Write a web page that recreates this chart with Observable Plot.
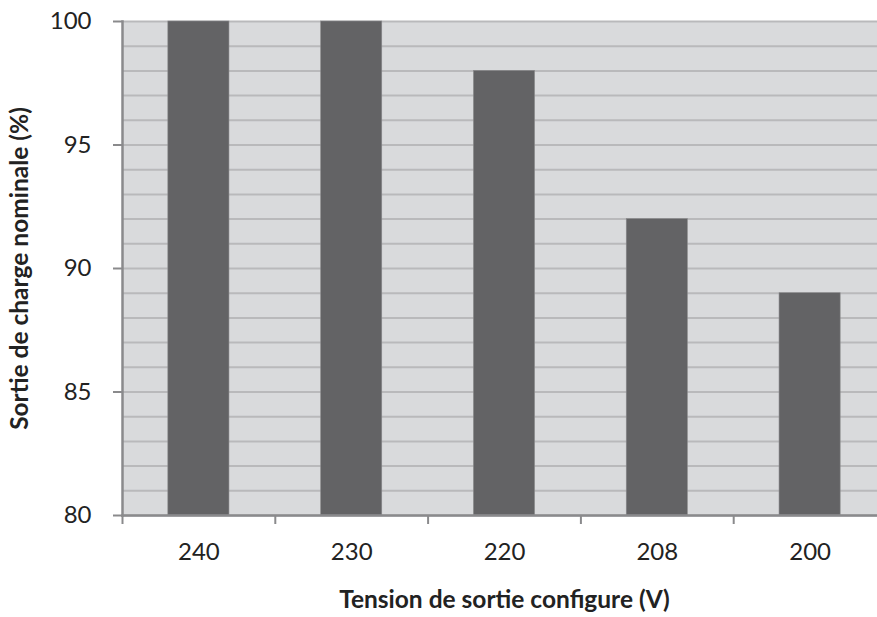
<!DOCTYPE html>
<html>
<head>
<meta charset="utf-8">
<script src="https://cdn.jsdelivr.net/npm/d3@7"></script>
<script src="https://cdn.jsdelivr.net/npm/@observablehq/plot@0.6"></script>
<style>
  html, body { margin: 0; padding: 0; background: #fff; overflow: hidden; }
  #chart svg { display: block; max-width: none !important; }
</style>
</head>
<body>
<div id="chart"></div>
<script>
const categories = ["240", "230", "220", "208", "200"];
const values = [100, 100, 98, 92, 89];
const yTicks = [80, 85, 90, 95, 100];
const yGrid = d3.range(80, 101, 1);
const xLabel = "Tension de sortie configure (V)";
const yLabel = "Sortie de charge nominale (%)";

const data = categories.map((c, i) => ({ cat: c, value: values[i] }));

const W = 886, H = 617;
const ml = 122, mr = 0, mt = 21, mb = 102;
const step = (W - ml - mr) / categories.length;

const plot = Plot.plot({
  width: W,
  height: H,
  marginLeft: ml,
  marginRight: mr,
  marginTop: mt,
  marginBottom: mb,
  style: { fontFamily: "Lato, 'Open Sans', sans-serif", fontSize: "24px", color: "#222", background: "#fff", overflow: "visible", maxWidth: "none" },
  x: { type: "band", domain: categories, paddingInner: 0.6, paddingOuter: 0.3, round: false },
  y: { domain: [80, 100] },
  marks: [
    Plot.frame({ fill: "#d9dadc", stroke: null }),
    Plot.gridY(yGrid, { stroke: "#b9b9bb", strokeOpacity: 1, strokeWidth: 2 }),
    Plot.barY(data, { x: "cat", y1: 80, y2: "value", fill: "#636365", stroke: "#8a8a8c", strokeWidth: 0.6 }),
    Plot.ruleX(categories, { x: d => d, y1: 80, y2: 80, dx: -step / 2, insetBottom: -9, stroke: "#8a8a8c", strokeWidth: 2 }),
    Plot.frame({ anchor: "left", stroke: "#8a8a8c", strokeWidth: 2.5 }),
    Plot.frame({ anchor: "bottom", stroke: "#8a8a8c", strokeWidth: 2.5 }),
    Plot.axisY(yTicks, { tickSize: 9, tickPadding: 22, fontSize: 24, label: null, stroke: "#8a8a8c", strokeWidth: 2 }),
    Plot.axisX({ tickSize: 0, tickPadding: 27, fontSize: 24, label: null }),
    Plot.text([xLabel], { frameAnchor: "bottom", dy: 92, text: d => d, fontSize: 24.5, fontWeight: "bold", fill: "#222" }),
    Plot.text([yLabel], { frameAnchor: "left", dx: -102, rotate: -90, textAnchor: "middle", text: d => d, fontSize: 24.5, fontWeight: "bold", fill: "#222" })
  ]
});

d3.select(plot).selectAll("g[aria-label='y-axis tick label'], g[aria-label='x-axis tick label']").attr("font-size", 24);

document.getElementById("chart").appendChild(plot);
</script>
</body>
</html>
